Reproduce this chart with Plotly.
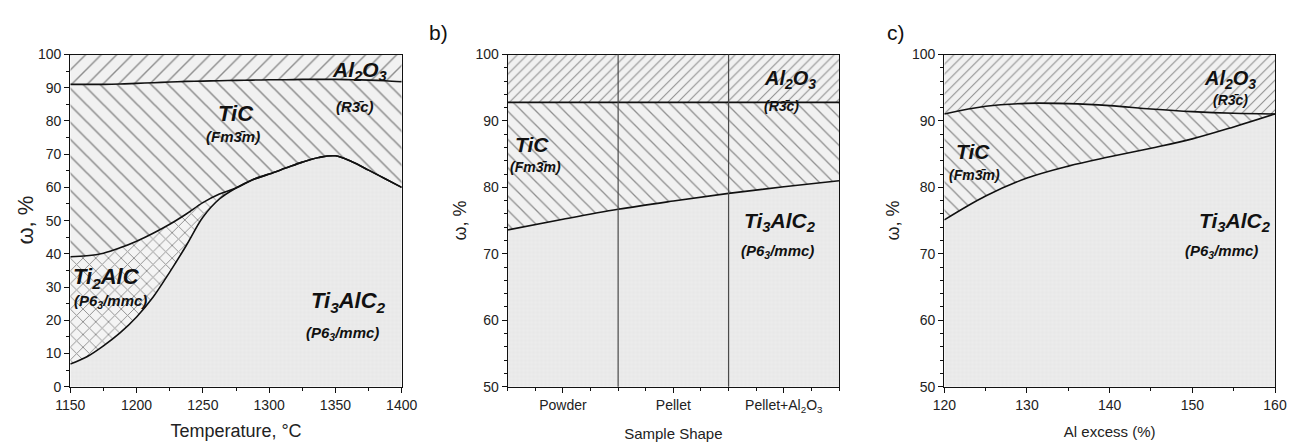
import plotly.graph_objects as go

# ---------------- data ----------------
# Panel a: phase fractions vs temperature
temperature = [1150, 1162.5, 1175, 1187.5, 1200, 1212.5, 1225, 1237.5, 1250, 1262.5, 1275,
               1287.5, 1300, 1312.5, 1325, 1337.5, 1350, 1362.5, 1375, 1387.5, 1400]
ti3alc2_top_a = [6.8, 9.0, 12.3, 16.2, 21.0, 27.0, 34.5, 42.5, 51.0, 56.5, 59.8,
                 62.3, 64.0, 65.8, 67.6, 69.0, 69.5, 67.7, 65.2, 62.6, 60.0]
tic_bottom_a = [39.1, 39.4, 40.2, 41.8, 43.8, 46.2, 48.9, 52.0, 55.4, 58.0, 59.8,
                62.3, 64.0, 65.8, 67.6, 69.0, 69.5, 67.7, 65.2, 62.6, 60.0]
al2o3_bottom_a = [91.0, 91.0, 91.0, 91.1, 91.3, 91.5, 91.7, 91.9, 92.0, 92.1, 92.2,
                  92.3, 92.4, 92.4, 92.5, 92.5, 92.5, 92.4, 92.3, 92.1, 91.8]

# Panel b: phase fractions vs sample shape
shape_categories = ["Powder", "Pellet", "Pellet+Al<sub>2</sub>O<sub>3</sub>"]
shape_pos = [-0.5, 0, 0.5, 1, 1.5, 2, 2.5]
tic_bottom_b = [73.6, 75.2, 76.7, 77.95, 79.1, 80.1, 81.0]
al2o3_bottom_b = [92.8, 92.8, 92.8, 92.8, 92.8, 92.8, 92.8]
shape_separators = [0.5, 1.5]

# Panel c: phase fractions vs Al excess
al_excess = [120, 125, 130, 135, 140, 145, 150, 155, 160]
tic_bottom_c = [75.1, 78.7, 81.4, 83.2, 84.6, 85.9, 87.3, 89.1, 91.05]
al2o3_bottom_c = [91.05, 92.2, 92.65, 92.6, 92.3, 91.8, 91.4, 91.15, 91.05]

TOP = 100

# ---------------- styles ----------------
FONT = "Liberation Sans, Arial, sans-serif"
INK = "#111111"
HATCH = "#2a2a2a"

def pat(shape, size, bg, fg=HATCH, solidity=0.13):
    return dict(shape=shape, size=size, solidity=solidity, fgcolor=fg, bgcolor=bg, fillmode="overlay")

P_TI3 = pat("+", 4, "#ececec", fg="#dcdcdc", solidity=0.2)

fig = go.Figure()

def region(x, y, fill, pattern, bg, xa, ya):
    fig.add_trace(go.Scatter(x=x, y=y, mode="lines", line=dict(width=0, shape="spline", color=INK),
                             fill=fill, fillcolor=bg, fillpattern=pattern,
                             xaxis=xa, yaxis=ya, hoverinfo="skip", showlegend=False))

def boundary(x, y, xa, ya):
    fig.add_trace(go.Scatter(x=x, y=y, mode="lines", line=dict(width=1.6, shape="spline", color=INK),
                             xaxis=xa, yaxis=ya, hoverinfo="skip", showlegend=False))

# Panel a
top_a = [TOP] * len(temperature)
region(temperature, ti3alc2_top_a, "tozeroy", P_TI3, "#ececec", "x", "y")
region(temperature, tic_bottom_a, "tonexty", pat("x", 9, "#f4f4f4", solidity=0.2), "#f4f4f4", "x", "y")
region(temperature, al2o3_bottom_a, "tonexty", pat("\\", 12, "#f1f1f1"), "#f1f1f1", "x", "y")
region(temperature, top_a, "tonexty", pat("/", 11, "#f1f1f1"), "#f1f1f1", "x", "y")
boundary(temperature, ti3alc2_top_a, "x", "y")
boundary(temperature, tic_bottom_a, "x", "y")
boundary(temperature, al2o3_bottom_a, "x", "y")

# Panel b
top_b = [TOP] * len(shape_pos)
region(shape_pos, tic_bottom_b, "tozeroy", P_TI3, "#ececec", "x2", "y2")
region(shape_pos, al2o3_bottom_b, "tonexty", pat("\\", 10, "#f1f1f1"), "#f1f1f1", "x2", "y2")
region(shape_pos, top_b, "tonexty", pat("/", 7, "#f1f1f1", solidity=0.15), "#f1f1f1", "x2", "y2")
boundary(shape_pos, tic_bottom_b, "x2", "y2")
boundary(shape_pos, al2o3_bottom_b, "x2", "y2")
for s in shape_separators:
    fig.add_shape(type="line", x0=s, x1=s, y0=0, y1=1, xref="x2", yref="y2 domain",
                  line=dict(color="#4a4a4a", width=1.2))

# Panel c
top_c = [TOP] * len(al_excess)
region(al_excess, tic_bottom_c, "tozeroy", P_TI3, "#ececec", "x3", "y3")
region(al_excess, al2o3_bottom_c, "tonexty", pat("\\", 10, "#f1f1f1"), "#f1f1f1", "x3", "y3")
region(al_excess, top_c, "tonexty", pat("/", 7, "#f1f1f1", solidity=0.15), "#f1f1f1", "x3", "y3")
boundary(al_excess, tic_bottom_c, "x3", "y3")
boundary(al_excess, al2o3_bottom_c, "x3", "y3")

# ---------------- axes ----------------
YDOM = [1 - 386.7 / 442, 1 - 54.5 / 442]
tickfont = dict(family=FONT, size=14, color="#222")

def xstyle(domain, anchor, rng, title, tsize, standoff, **kw):
    d = dict(domain=domain, anchor=anchor, range=rng, showline=True, linecolor=INK, linewidth=1.2,
             mirror=True, ticks="outside", ticklen=5, tickwidth=1, tickcolor=INK, showgrid=False,
             zeroline=False, tickfont=tickfont, automargin=False,
             title=dict(text=title, font=dict(family=FONT, size=tsize, color="#222"), standoff=standoff))
    d.update(kw)
    return d

def ystyle(anchor, rng, dtick, minor):
    return dict(domain=YDOM, anchor=anchor, range=rng, dtick=dtick, showline=True, linecolor=INK,
                linewidth=1.2, mirror=True, ticks="outside", ticklen=5, tickwidth=1, tickcolor=INK,
                showgrid=False, zeroline=False, tickfont=tickfont, automargin=False,
                minor=dict(dtick=minor, ticks="outside", ticklen=3, tickcolor=INK, showgrid=False))

fig.update_layout(
    width=1289, height=442, margin=dict(l=0, r=0, t=0, b=0, autoexpand=False),
    paper_bgcolor="white", plot_bgcolor="white", showlegend=False,
    xaxis=xstyle([70.3 / 1289, 401.7 / 1289], "y", [1150, 1400], "Temperature, \u00b0C", 18, 12, dtick=50,
                 minor=dict(dtick=25, ticks="outside", ticklen=3, tickcolor=INK, showgrid=False)),
    yaxis=ystyle("x", [0, 100], 10, 5),
    xaxis2=xstyle([507.7 / 1289, 839 / 1289], "y2", [-0.5, 2.5], "Sample Shape", 15, 14,
                  tickmode="array", tickvals=[0, 1, 2], ticktext=shape_categories,
                  minor=dict(tickmode="linear", tick0=-0.5, dtick=0.25, ticks="outside", ticklen=3,
                             tickcolor=INK, showgrid=False)),
    yaxis2=ystyle("x2", [50, 100], 10, 2),
    xaxis3=xstyle([944.3 / 1289, 1275 / 1289], "y3", [120, 160], "Al excess (%)", 15, 14, dtick=10,
                  minor=dict(dtick=5, ticks="outside", ticklen=3, tickcolor=INK, showgrid=False)),
    yaxis3=ystyle("x3", [50, 100], 10, 2),
)

# y-axis titles (placed precisely)
for px, size in ((26, 22), (460, 18), (893, 18)):
    fig.add_annotation(text="\u03c9, %", x=px / 1289, y=1 - 220.6 / 442, xref="paper", yref="paper",
                       showarrow=False, textangle=-90, xanchor="center", yanchor="middle",
                       font=dict(family=FONT, size=size, color="#222"))

# ---------------- labels ----------------
def lab(text, x, y, xa, ya, size):
    fig.add_annotation(text=f"<b><i>{text}</i></b>", x=x, y=y, xref=xa, yref=ya, showarrow=False,
                       font=dict(family=FONT, size=size, color="#111"))

P63 = "(P6<sub>3</sub>/mmc)"
FM3M = "(Fm3\u0304m)"
R3C = "(R3\u0304c)"
AL2O3 = "Al<sub>2</sub>O<sub>3</sub>"

lab(AL2O3, 1368, 95.0, "x", "y", 21)
lab(R3C, 1365, 84.3, "x", "y", 15)
lab("TiC", 1275, 82.3, "x", "y", 22)
lab(FM3M, 1273, 75.2, "x", "y", 15)
lab("Ti<sub>2</sub>AlC", 1177, 32.6, "x", "y", 22)
lab(P63, 1180, 25.6, "x", "y", 15)
lab("Ti<sub>3</sub>AlC<sub>2</sub>", 1360, 25.6, "x", "y", 22)
lab(P63, 1355, 16.0, "x", "y", 15)

lab(AL2O3, 2.06, 96.2, "x2", "y2", 20)
lab(R3C, 1.98, 92.25, "x2", "y2", 14)
lab("TiC", -0.28, 86.5, "x2", "y2", 21)
lab(FM3M, -0.25, 83.1, "x2", "y2", 14)
lab("Ti<sub>3</sub>AlC<sub>2</sub>", 1.97, 74.8, "x2", "y2", 21)
lab(P63, 1.94, 70.3, "x2", "y2", 15)

lab(AL2O3, 154.6, 96.2, "x3", "y3", 20)
lab(R3C, 154.6, 93.2, "x3", "y3", 14)
lab("TiC", 123.5, 85.4, "x3", "y3", 21)
lab(FM3M, 123.7, 81.9, "x3", "y3", 14)
lab("Ti<sub>3</sub>AlC<sub>2</sub>", 155.2, 74.8, "x3", "y3", 21)
lab(P63, 153.5, 70.3, "x3", "y3", 15)

for t, px in (("b)", 438), ("c)", 896)):
    fig.add_annotation(text=t, x=px / 1289, y=1 - 33 / 442, xref="paper", yref="paper", showarrow=False,
                       xanchor="center", yanchor="middle",
                       font=dict(family=FONT, size=21, color="#111"))

fig.write_html("out.html")
